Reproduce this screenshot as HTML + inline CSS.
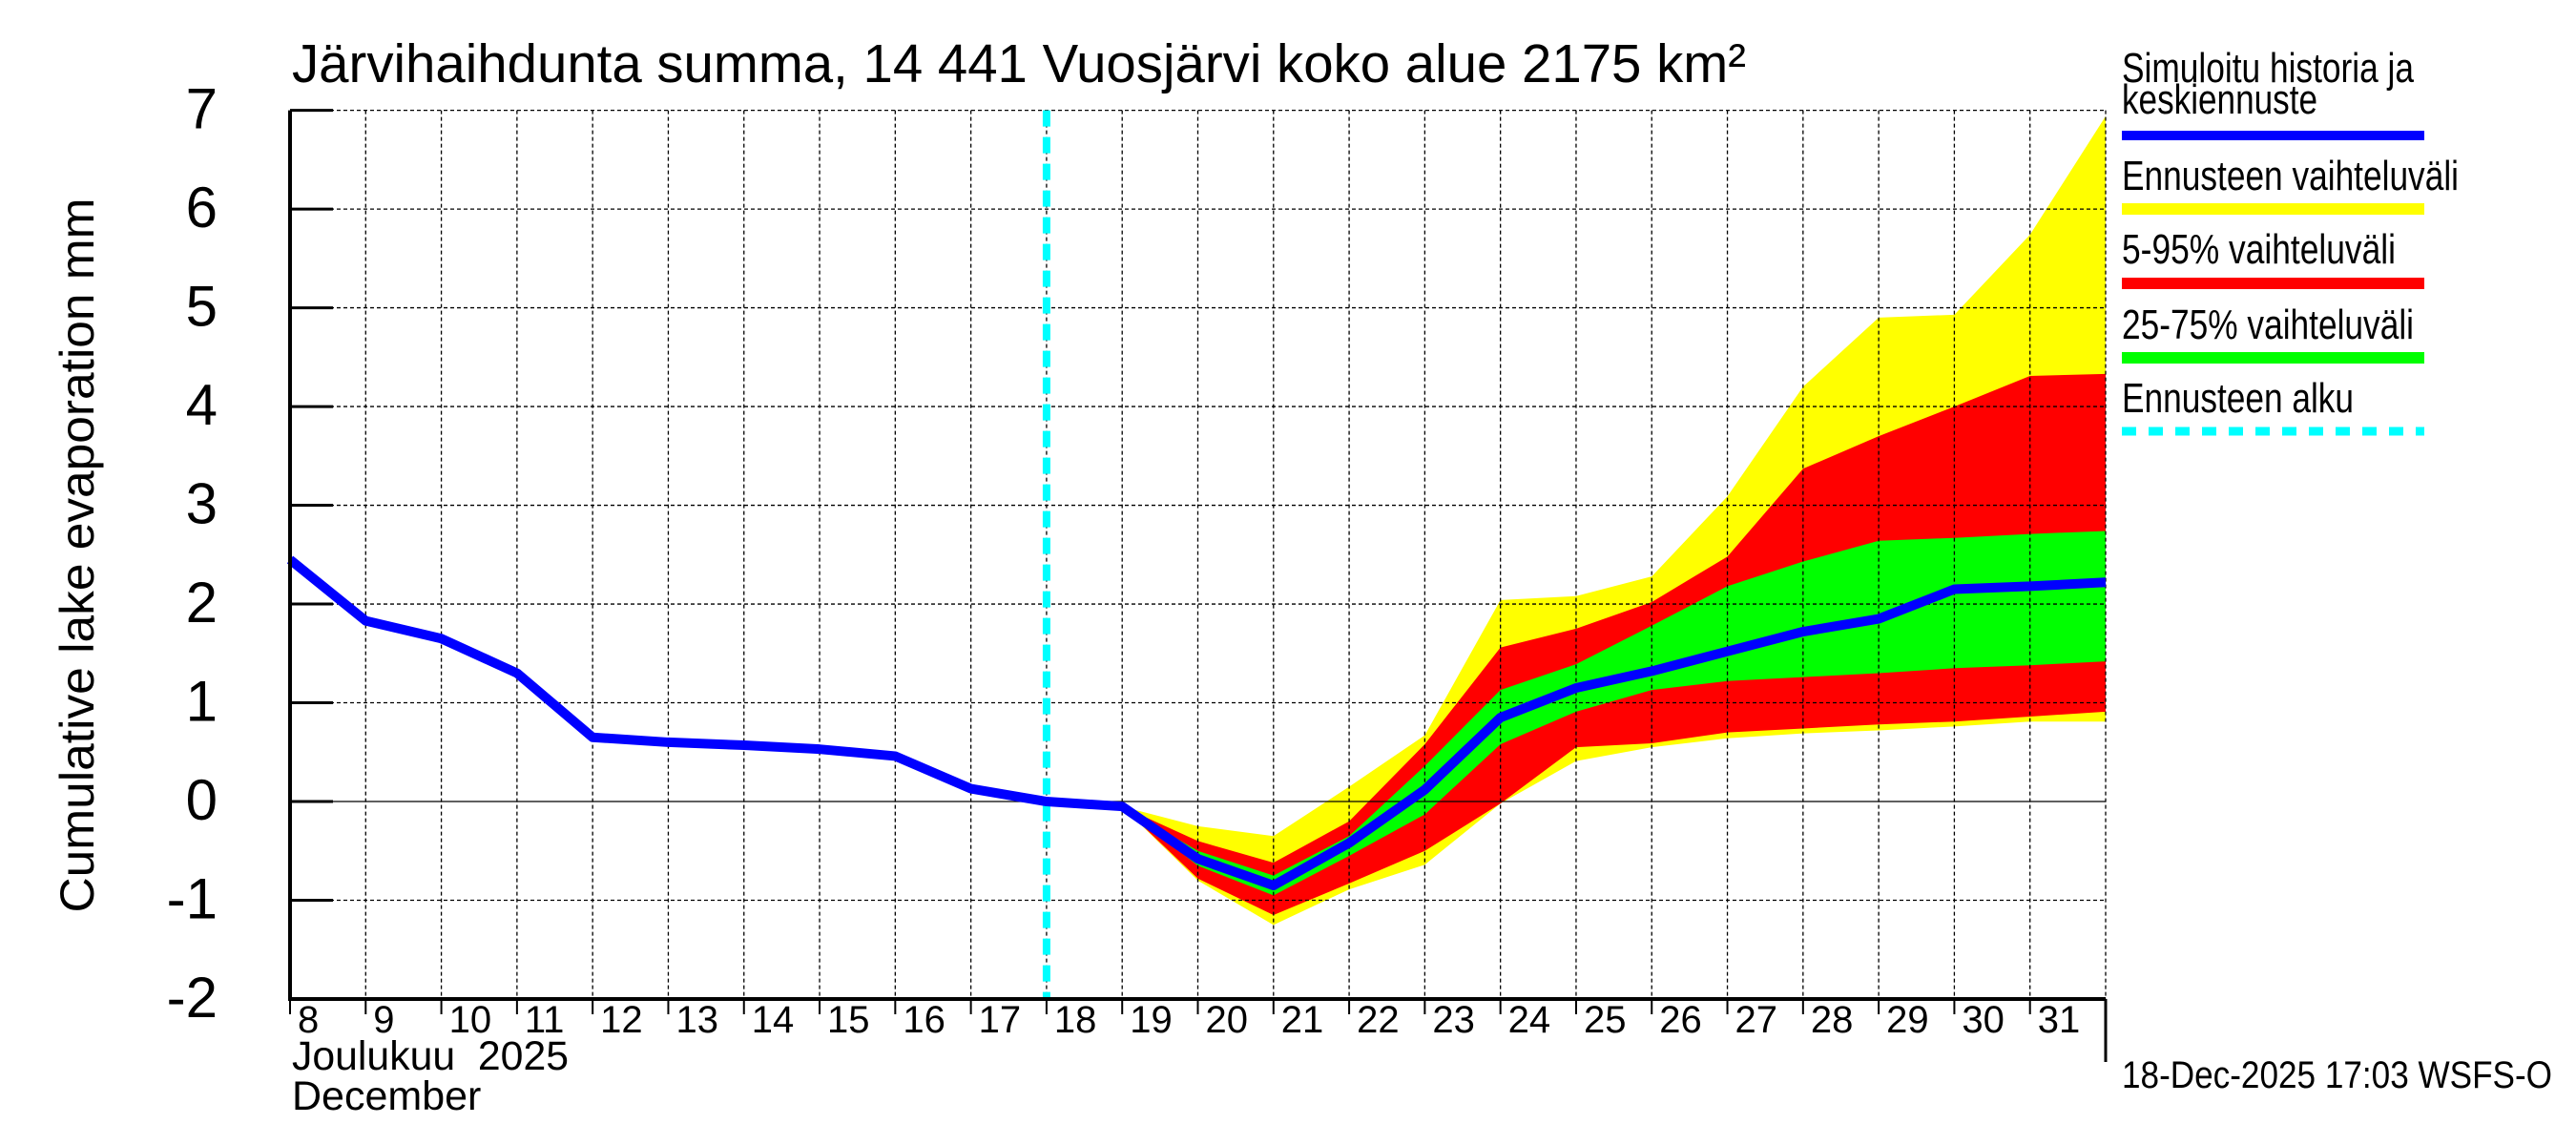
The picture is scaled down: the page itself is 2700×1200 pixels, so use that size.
<!DOCTYPE html>
<html><head><meta charset="utf-8"><style>
body{margin:0;background:#fff;overflow:hidden;}
svg{display:block;font-family:"Liberation Sans",sans-serif;}
</style></head><body>
<svg id="c" width="2700" height="1200" viewBox="0 0 2700 1200">
<g id="bands"></g><g id="grid"></g><g id="marks"></g><g id="axes"></g>
<text x="306" y="86" font-size="57" textLength="1524" lengthAdjust="spacingAndGlyphs">Järvihaihdunta summa, 14 441 Vuosjärvi koko alue 2175 km²</text>
<text transform="translate(98,582) rotate(-90)" text-anchor="middle" font-size="50" textLength="749" lengthAdjust="spacingAndGlyphs">Cumulative lake evaporation   mm</text>
<text x="306" y="1121" font-size="43" textLength="290" lengthAdjust="spacingAndGlyphs">Joulukuu&#160;&#160;2025</text>
<text x="306" y="1163" font-size="43">December</text>
<text x="2224" y="1140" font-size="40" textLength="451" lengthAdjust="spacingAndGlyphs">18-Dec-2025 17:03 WSFS-O</text>
<g font-size="44">
<text x="2224" y="86" textLength="306" lengthAdjust="spacingAndGlyphs">Simuloitu historia ja</text>
<text x="2224" y="119" textLength="205" lengthAdjust="spacingAndGlyphs">keskiennuste</text>
<rect x="2224" y="137" width="317" height="10" fill="#0000ff"/>
<text x="2224" y="199" textLength="353" lengthAdjust="spacingAndGlyphs">Ennusteen vaihteluväli</text>
<rect x="2224" y="213" width="317" height="12" fill="#ffff00"/>
<text x="2224" y="276" textLength="287" lengthAdjust="spacingAndGlyphs">5-95% vaihteluväli</text>
<rect x="2224" y="291" width="317" height="12" fill="#ff0000"/>
<text x="2224" y="355" textLength="306" lengthAdjust="spacingAndGlyphs">25-75% vaihteluväli</text>
<rect x="2224" y="369" width="317" height="12" fill="#00ff00"/>
<text x="2224" y="432" textLength="243" lengthAdjust="spacingAndGlyphs">Ennusteen alku</text>
<line x1="2224" x2="2541" y1="452" y2="452" stroke="#00ffff" stroke-width="9" stroke-dasharray="15,13"/>
</g>
</svg>
<script>
const days=[8,9,10,11,12,13,14,15,16,17,18,19,20,21,22,23,24,25,26,27,28,29,30,31,32];
const median=[2.45,1.83,1.65,1.30,0.65,0.60,0.57,0.53,0.46,0.13,0.0,-0.05,-0.58,-0.85,-0.42,0.12,0.85,1.15,1.32,1.52,1.72,1.85,2.15,2.18,2.22];
const fcDays=[19,20,21,22,23,24,25,26,27,28,29,30,31,32];
const yelHi=[-0.05,-0.25,-0.35,0.15,0.67,2.04,2.08,2.28,3.09,4.2,4.9,4.93,5.74,6.94];
const redHi=[-0.05,-0.4,-0.62,-0.2,0.58,1.56,1.75,2.02,2.48,3.37,3.7,4.0,4.31,4.33];
const grnHi=[-0.05,-0.5,-0.75,-0.35,0.36,1.13,1.39,1.78,2.18,2.43,2.64,2.67,2.71,2.74];
const grnLo=[-0.05,-0.65,-0.95,-0.55,-0.13,0.58,0.91,1.13,1.22,1.26,1.3,1.35,1.38,1.42];
const redLo=[-0.05,-0.78,-1.15,-0.83,-0.5,-0.02,0.55,0.59,0.7,0.74,0.78,0.81,0.86,0.91];
const yelLo=[-0.05,-0.8,-1.25,-0.89,-0.64,-0.02,0.41,0.55,0.64,0.69,0.72,0.76,0.81,0.81];
const yTicks=[-2,-1,0,1,2,3,4,5,6,7];
const xTickLabels=[8,9,10,11,12,13,14,15,16,17,18,19,20,21,22,23,24,25,26,27,28,29,30,31];
const forecastStart=18;

const X0=304,X1=2207,Y0=1047,Y1=115.6;
const x=d=>X0+(d-8)*(X1-X0)/24;
const y=v=>Y0-(v+2)*(Y0-Y1)/9;
const NS="http://www.w3.org/2000/svg";
function mk(tag,attrs,parent,text){const e=document.createElementNS(NS,tag);for(const k in attrs)e.setAttribute(k,attrs[k]);if(text!==undefined)e.textContent=text;document.getElementById(parent).appendChild(e);return e;}

function band(hi,lo,color,name){
  let p=fcDays.map((d,i)=>x(d)+","+y(hi[i]));
  for(let i=fcDays.length-1;i>=0;i--)p.push(x(fcDays[i])+","+y(lo[i]));
  const e=mk("polygon",{points:p.join(" "),fill:color},"bands");
  
  
}
band(yelHi,yelLo,"#ffff00","band-full-range");
band(redHi,redLo,"#ff0000","band-5-95");
band(grnHi,grnLo,"#00ff00","band-25-75");

for(let d=9;d<=32;d++){
  const e=mk("line",{x1:x(d),x2:x(d),y1:Y1,y2:Y0,stroke:"#000","stroke-width":1.3,"stroke-dasharray":"4,3"},"grid");
  
  
}
yTicks.forEach(v=>{
  if(v===-2)return;
  const e=mk("line",{x1:X0,x2:X1,y1:y(v),y2:y(v),stroke:"#000","stroke-width":1.3,"stroke-dasharray":v===0?"none":"4,3"},"grid");
  
  
});

const fs=mk("line",{x1:x(forecastStart),x2:x(forecastStart),y1:Y1,y2:Y0,stroke:"#00ffff","stroke-width":8,"stroke-dasharray":"17,11"},"marks");



const ml=mk("polyline",{points:days.map((d,i)=>x(d)+","+y(median[i])).join(" "),fill:"none",stroke:"#0000ff","stroke-width":10,"stroke-linejoin":"round"},"marks");



let e=mk("line",{x1:X0,x2:X0,y1:Y1,y2:Y0+2,stroke:"#000","stroke-width":4},"axes");


e=mk("line",{x1:X0-2,x2:X1,y1:Y0,y2:Y0,stroke:"#000","stroke-width":4},"axes");


e=mk("line",{x1:X1,x2:X1,y1:Y0,y2:1113,stroke:"#000","stroke-width":3},"axes");


yTicks.forEach(v=>{
  const t=mk("line",{x1:X0,x2:X0+45,y1:y(v),y2:y(v),stroke:"#000","stroke-width":3},"axes");
  
  
  const l=mk("text",{x:228,y:y(v)+19,"text-anchor":"end","font-size":60},"axes",String(v));
  
  
});
xTickLabels.forEach(d=>{
  const t=mk("line",{x1:x(d),x2:x(d),y1:Y0,y2:Y0+16,stroke:"#000","stroke-width":2},"axes");
  
  
  const l=mk("text",{x:x(d)+8,y:1082,"font-size":40},"axes",String(d));
  
  
});
</script>
</body></html>
